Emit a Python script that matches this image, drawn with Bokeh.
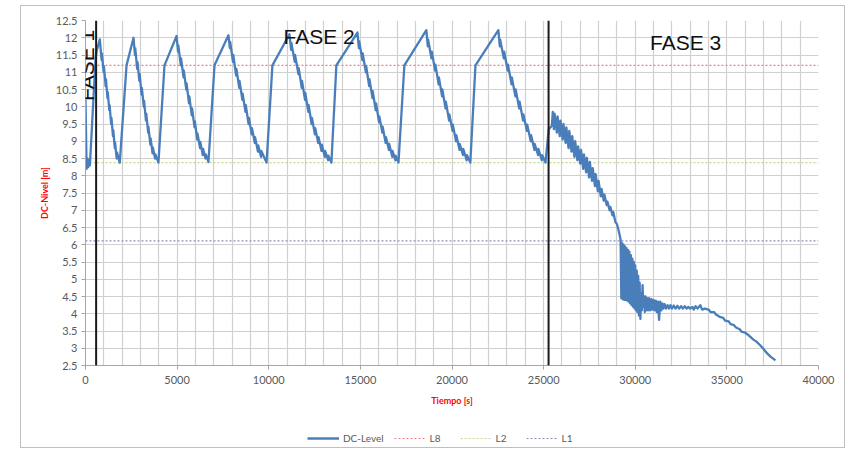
from bokeh.plotting import figure
from bokeh.models import (Range1d, FixedTicker, Span, Label, Legend, LegendItem)
from bokeh.layouts import column
from bokeh.embed import file_html
from bokeh.resources import INLINE
import math

# ---------------- data ----------------
time_s = [
    0, 60, 110, 150, 200, 240, 550, 600, 780,
    880, 895, 990, 1005, 1100, 1115, 1200, 1215, 1300, 1315, 1400, 1415, 1500, 1515, 1600, 1615, 1700, 1715, 1870,
    2240, 2620,
    2700, 2715, 2820, 2835, 2940, 2955, 3060, 3075, 3180, 3195, 3300, 3315, 3420, 3435, 3540, 3555, 3660, 3675, 3800, 3815, 3980,
    4310, 4970,
    5050, 5065, 5200, 5215, 5350, 5365, 5500, 5515, 5650, 5665, 5800, 5815, 5950, 5965, 6100, 6115, 6250, 6265, 6400, 6415, 6550, 6565, 6710,
    7040, 7800,
    7880, 7895, 8050, 8065, 8220, 8235, 8390, 8405, 8560, 8575, 8730, 8745, 8900, 8915, 9070, 9085, 9240, 9255, 9410, 9425, 9580, 9595, 9880,
    10200, 11130,
    11220, 11235, 11420, 11435, 11620, 11635, 11800, 11815, 11980, 11995, 12160, 12175, 12340, 12355, 12520, 12535, 12700, 12715, 12880, 12895, 13060, 13075, 13240, 13255, 13420,
    13690, 14840,
    14920, 14935, 15110, 15125, 15300, 15315, 15480, 15495, 15660, 15675, 15840, 15855, 16020, 16035, 16200, 16215, 16380, 16395, 16560, 16575, 16740, 16755, 16910, 16925, 17080,
    17400, 18600,
    18680, 18695, 18880, 18895, 19080, 19095, 19270, 19285, 19460, 19475, 19650, 19665, 19840, 19855, 20030, 20045, 20220, 20235, 20410, 20425, 20600, 20615, 20800, 20815, 21000,
    21280, 22530,
    22610, 22625, 22830, 22845, 23040, 23055, 23250, 23265, 23460, 23475, 23670, 23685, 23880, 23895, 24090, 24105, 24300, 24315, 24500, 24515, 24700, 24715, 24900, 24915, 25100,
    25280, 25450, 25500, 25560, 25600, 25720, 25760, 25880, 25920, 26040, 26080, 26200, 26240, 26360, 26400, 26520,
    26560, 26680, 26720, 26840, 26880, 27000, 27040, 27160, 27200, 27320, 27360, 27480, 27520, 27640, 27680, 27800,
    27840, 27960, 28000, 28120, 28160, 28280, 28320, 28440, 28480, 28600, 28640, 28760, 28800, 28920, 29000, 29100, 29200,
    29240, 29280, 29320, 29360, 29400, 29440, 29480, 29520, 29560, 29600, 29640, 29680, 29720, 29760, 29800, 29840,
    29880, 29920, 29960, 30000, 30040, 30080, 30120, 30160, 30200, 30240, 30280, 30320, 30360, 30400, 30440, 30480,
    30520, 30560, 30600, 30640, 30700, 30760, 30820, 30880, 30940, 31000, 31060, 31120, 31180, 31240, 31300, 31360,
    31420, 31480, 31540, 31600, 31680, 31760, 31840, 31920, 32000, 32100, 32200, 32300, 32400, 32500, 32600, 32700,
    32800, 32900, 33000, 33120, 33200, 33290, 33400, 33550, 33650, 33800, 34000, 34110, 34300, 34400, 34650, 34800,
    34900, 35100, 35200, 35360, 35500, 35700, 35800, 36000, 36130, 36300, 36450, 36600, 36830, 37000, 37200, 37400, 37650,
]
level_m = [
    10.2, 8.2, 8.5, 8.25, 8.45, 8.3, 11.4, 11.6, 11.95,
    11.35, 11.55, 11.0, 11.18, 10.6, 10.8, 10.25, 10.42, 9.9, 10.05, 9.5, 9.68, 9.15, 9.32, 8.8, 8.97, 8.5, 8.68, 8.38,
    11.2, 12.0,
    11.5, 11.7, 11.1, 11.3, 10.75, 10.95, 10.35, 10.55, 10.0, 10.18, 9.6, 9.8, 9.25, 9.42, 8.9, 9.08, 8.65, 8.82, 8.5, 8.62, 8.38,
    11.2, 12.05,
    11.6, 11.78, 11.2, 11.4, 10.85, 11.05, 10.5, 10.68, 10.1, 10.3, 9.75, 9.95, 9.4, 9.58, 9.05, 9.22, 8.8, 8.98, 8.6, 8.78, 8.5, 8.62, 8.4,
    11.2, 12.07,
    11.7, 11.88, 11.3, 11.5, 10.9, 11.1, 10.55, 10.75, 10.2, 10.38, 9.85, 10.05, 9.5, 9.68, 9.2, 9.38, 8.95, 9.12, 8.7, 8.88, 8.55, 8.72, 8.38,
    11.2, 12.1,
    11.65, 11.85, 11.3, 11.5, 10.95, 11.12, 10.55, 10.75, 10.2, 10.4, 9.85, 10.05, 9.5, 9.68, 9.2, 9.38, 8.95, 9.12, 8.72, 8.9, 8.55, 8.72, 8.45, 8.58, 8.38,
    11.2, 12.15,
    11.7, 11.9, 11.35, 11.55, 11.0, 11.18, 10.6, 10.8, 10.25, 10.45, 9.9, 10.1, 9.55, 9.72, 9.25, 9.42, 8.95, 9.12, 8.75, 8.92, 8.55, 8.72, 8.45, 8.58, 8.38,
    11.2, 12.22,
    11.75, 11.95, 11.4, 11.6, 11.05, 11.22, 10.65, 10.85, 10.3, 10.5, 9.95, 10.15, 9.6, 9.78, 9.3, 9.48, 9.0, 9.18, 8.75, 8.92, 8.6, 8.78, 8.45, 8.6, 8.38,
    11.2, 12.22,
    11.75, 11.95, 11.4, 11.6, 11.05, 11.22, 10.65, 10.85, 10.3, 10.5, 9.95, 10.15, 9.6, 9.78, 9.3, 9.48, 9.0, 9.18, 8.75, 8.92, 8.6, 8.78, 8.45, 8.6, 8.38,
    9.35, 9.45, 9.85, 9.35, 9.8, 9.25, 9.72, 9.15, 9.6, 9.05, 9.5, 8.95, 9.4, 8.8, 9.3, 8.7,
    9.15, 8.55, 9.0, 8.45, 8.85, 8.35, 8.75, 8.2, 8.62, 8.1, 8.52, 7.95, 8.4, 7.85, 8.22, 7.7,
    8.05, 7.55, 7.85, 7.4, 7.62, 7.28, 7.45, 7.15, 7.25, 7.0, 7.1, 6.85, 6.95, 6.65, 6.6, 6.4, 6.15,
    4.45, 6.05, 4.42, 6.0, 4.4, 5.95, 4.4, 5.9, 4.38, 5.85, 4.35, 5.8, 4.3, 5.7, 4.25, 5.6,
    4.2, 5.5, 4.15, 5.4, 4.1, 5.25, 4.05, 5.1, 3.95, 4.9, 3.85, 4.6, 4.1, 4.83, 4.2, 4.5,
    4.05, 4.5, 4.1, 4.45, 4.1, 4.45, 4.1, 4.42, 4.12, 4.4, 4.1, 4.38, 4.05, 4.35, 3.82, 4.35,
    4.1, 4.3, 4.15, 4.28, 4.15, 4.25, 4.15, 4.25, 4.15, 4.24, 4.15, 4.23, 4.15, 4.22, 4.15, 4.22,
    4.15, 4.2, 4.15, 4.2, 4.12, 4.22, 4.15, 4.25, 4.12, 4.15, 4.12, 4.05, 4.05, 3.98, 3.9, 3.88,
    3.8, 3.78, 3.7, 3.68, 3.6, 3.55, 3.48, 3.45, 3.4, 3.32, 3.25, 3.2, 3.08, 2.98, 2.85, 2.75, 2.65,
]

level_L8 = 11.2
level_L2 = 8.38
level_L1 = 6.11
phase_bounds = [580, 25270]
phase_labels = ["FASE 1", "FASE 2", "FASE 3"]
phase_label_x = [70, 12750, 32750]
phase_label_y = [11.2, 12.05, 11.85]
series_names = ["DC-Level", "L8", "L2", "L1"]

x_limits = [0, 40000]
y_limits = [2.5, 12.5]
x_tick_values = [0, 5000, 10000, 15000, 20000, 25000, 30000, 35000, 40000]
x_tick_labels = ["0", "5000", "10000", "15000", "20000", "25000", "30000", "35000", "40000"]
y_tick_values = [2.5, 3, 3.5, 4, 4.5, 5, 5.5, 6, 6.5, 7, 7.5, 8, 8.5, 9, 9.5, 10, 10.5, 11, 11.5, 12, 12.5]
y_tick_labels = ["2.5", "3", "3.5", "4", "4.5", "5", "5.5", "6", "6.5", "7", "7.5", "8", "8.5", "9",
                 "9.5", "10", "10.5", "11", "11.5", "12", "12.5"]

styles = {
    "DC-Level": dict(line_color="#4a7ebb", line_width=2.3),
    "L8": dict(line_color="#f08080", line_width=1.2, line_dash="2 2"),
    "L2": dict(line_color="#c4d68a", line_width=1.2, line_dash="2 2"),
    "L1": dict(line_color="#8f8fc8", line_width=1.2, line_dash="2 2"),
}


def draw_series(fig):
    """Draw the four series into a figure; returns renderers by name."""
    rs = {}
    rs["L8"] = fig.line(x_limits, [level_L8, level_L8], **styles["L8"])
    rs["L2"] = fig.line(x_limits, [level_L2, level_L2], **styles["L2"])
    rs["L1"] = fig.line(x_limits, [level_L1, level_L1], **styles["L1"])
    rs["DC-Level"] = fig.line(time_s, level_m, line_join="round", **styles["DC-Level"])
    return rs


# ---------------- main figure ----------------
p = figure(frame_width=733, frame_height=345, output_backend="svg", toolbar_location=None,
           x_range=Range1d(*x_limits), y_range=Range1d(*y_limits))
p.min_border_left = 64
p.min_border_right = 26
p.min_border_top = 14
p.min_border_bottom = 46
p.outline_line_color = None
p.background_fill_color = "white"
p.border_fill_color = "white"

tick_font = "Lato"
for ax in (p.xaxis[0], p.yaxis[0]):
    ax.major_label_text_font = tick_font
    ax.major_label_text_font_size = "11px"
    ax.major_label_text_color = "#595959"
    ax.axis_line_color = "#a6a6a6"
    ax.major_tick_line_color = "#a6a6a6"
    ax.major_tick_in = 0
    ax.major_tick_out = 4
    ax.minor_tick_line_color = None
    ax.axis_label_text_font = tick_font
    ax.axis_label_text_font_size = "9px"
    ax.axis_label_text_font_style = "bold"
    ax.axis_label_text_color = "#ff0000"

p.xaxis.ticker = FixedTicker(ticks=x_tick_values)
p.xaxis.major_label_overrides = dict(zip(x_tick_values, x_tick_labels))
p.yaxis.ticker = FixedTicker(ticks=y_tick_values)
p.yaxis.major_label_overrides = dict(zip(y_tick_values, y_tick_labels))
p.xaxis.axis_label = "Tiempo [s]"
p.yaxis.axis_label = "DC-Nivel [m]"
p.xaxis.axis_label_standoff = 8
p.yaxis.axis_label_standoff = 3
p.xaxis.major_label_standoff = 6
p.yaxis.major_label_standoff = 4

p.xgrid.ticker = FixedTicker(ticks=list(range(x_limits[0], x_limits[1] + 1, 1000)))
p.ygrid.ticker = FixedTicker(ticks=y_tick_values)
p.xgrid.grid_line_color = "#d0d0d0"
p.ygrid.grid_line_color = "#d0d0d0"
p.xgrid.grid_line_width = 1.2
p.ygrid.grid_line_width = 1.2

draw_series(p)

# phase separators
for xb in phase_bounds:
    p.add_layout(Span(location=xb, dimension="height", line_color="#1a1a1a", line_width=2))

# phase labels
p.add_layout(Label(x=phase_label_x[0], y=phase_label_y[0], text=phase_labels[0], angle=math.pi / 2,
                   text_align="center", text_baseline="middle", text_font="Liberation Sans",
                   text_font_size="21px", text_color="#111111"))
for i in (1, 2):
    p.add_layout(Label(x=phase_label_x[i], y=phase_label_y[i], text=phase_labels[i],
                       text_align="center", text_baseline="middle", text_font="Liberation Sans",
                       text_font_size="21px", text_color="#111111"))

# ---------------- legend strip (same series, drawn outside its visible range) ----------------
q = figure(width=823, height=36, output_backend="svg", toolbar_location=None,
           x_range=Range1d(*x_limits), y_range=Range1d(0, 1), x_axis_type=None, y_axis_type=None)
q.min_border = 0
q.outline_line_color = None
q.xgrid.visible = False
q.ygrid.visible = False
q_renderers = draw_series(q)
items = [LegendItem(label=name, renderers=[q_renderers[name]]) for name in series_names]
legend = Legend(items=items, orientation="horizontal", location=(222, 3),
                label_text_font=tick_font, label_text_font_size="10px", label_text_color="#595959",
                glyph_width=32, glyph_height=12, label_standoff=4, spacing=10, padding=2,
                margin=0, border_line_color=None, background_fill_alpha=0)
q.add_layout(legend, "center")

layout = column(p, q, spacing=0)
layout.margin = (5, 0, 0, 20)
layout.styles = {"border": "1px solid #bfbfbf"}

open("out.html", "w").write(file_html(layout, INLINE))
